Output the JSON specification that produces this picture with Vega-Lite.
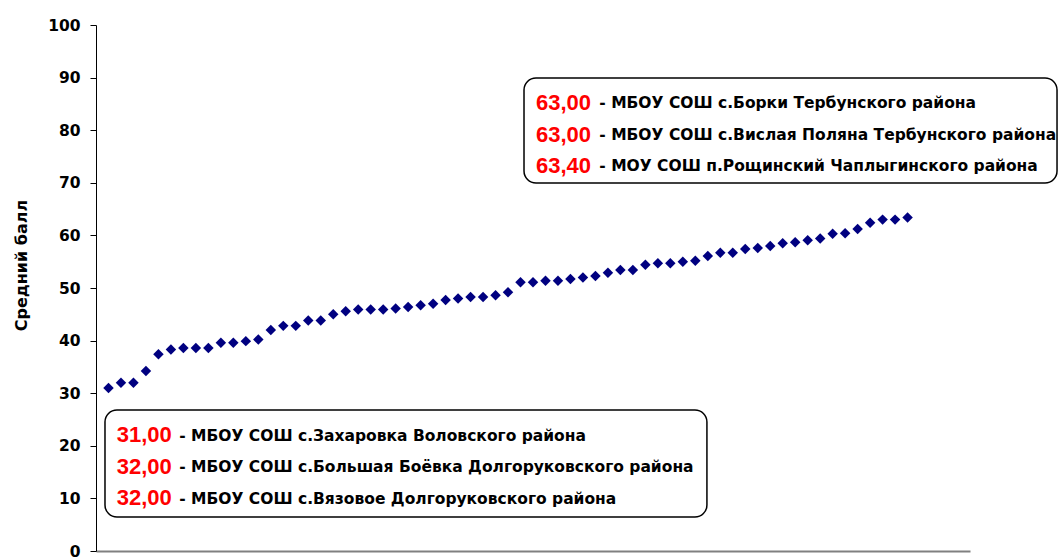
{
  "$schema": "https://vega.github.io/schema/vega-lite/v6.json",
  "width": 874,
  "height": 526,
  "autosize": "none",
  "padding": {"left": 96, "top": 25, "right": 89, "bottom": 6},
  "background": "white",
  "config": {
    "view": {"stroke": null},
    "font": "DejaVu Sans"
  },
  "datasets": {
    "points": [
      {"n": 1, "score": 31.0}, {"n": 2, "score": 32.0}, {"n": 3, "score": 32.0}, {"n": 4, "score": 34.2},
      {"n": 5, "score": 37.4}, {"n": 6, "score": 38.3}, {"n": 7, "score": 38.6}, {"n": 8, "score": 38.6},
      {"n": 9, "score": 38.6}, {"n": 10, "score": 39.6}, {"n": 11, "score": 39.6}, {"n": 12, "score": 39.9},
      {"n": 13, "score": 40.2}, {"n": 14, "score": 42.0}, {"n": 15, "score": 42.8}, {"n": 16, "score": 42.8},
      {"n": 17, "score": 43.8}, {"n": 18, "score": 43.8}, {"n": 19, "score": 45.0}, {"n": 20, "score": 45.6},
      {"n": 21, "score": 45.9}, {"n": 22, "score": 45.9}, {"n": 23, "score": 45.9}, {"n": 24, "score": 46.1},
      {"n": 25, "score": 46.4}, {"n": 26, "score": 46.7}, {"n": 27, "score": 47.0}, {"n": 28, "score": 47.7},
      {"n": 29, "score": 48.0}, {"n": 30, "score": 48.3}, {"n": 31, "score": 48.3}, {"n": 32, "score": 48.6},
      {"n": 33, "score": 49.2}, {"n": 34, "score": 51.1}, {"n": 35, "score": 51.1}, {"n": 36, "score": 51.4},
      {"n": 37, "score": 51.4}, {"n": 38, "score": 51.7}, {"n": 39, "score": 52.0}, {"n": 40, "score": 52.3},
      {"n": 41, "score": 52.9}, {"n": 42, "score": 53.4}, {"n": 43, "score": 53.4}, {"n": 44, "score": 54.4},
      {"n": 45, "score": 54.7}, {"n": 46, "score": 54.7}, {"n": 47, "score": 55.0}, {"n": 48, "score": 55.2},
      {"n": 49, "score": 56.1}, {"n": 50, "score": 56.7}, {"n": 51, "score": 56.7}, {"n": 52, "score": 57.4},
      {"n": 53, "score": 57.6}, {"n": 54, "score": 58.0}, {"n": 55, "score": 58.5}, {"n": 56, "score": 58.7},
      {"n": 57, "score": 59.1}, {"n": 58, "score": 59.4}, {"n": 59, "score": 60.3}, {"n": 60, "score": 60.4},
      {"n": 61, "score": 61.2}, {"n": 62, "score": 62.4}, {"n": 63, "score": 63.0}, {"n": 64, "score": 63.0},
      {"n": 65, "score": 63.4}
    ],
    "best": [
      {"values": ["63,00", "63,00", "63,40"],
       "schools": ["- МБОУ СОШ с.Борки Тербунского района", "- МБОУ СОШ с.Вислая Поляна Тербунского района", "- МОУ СОШ п.Рощинский Чаплыгинского района"]}
    ],
    "worst": [
      {"values": ["31,00", "32,00", "32,00"],
       "schools": ["- МБОУ СОШ с.Захаровка Воловского района", "- МБОУ СОШ с.Большая Боёвка Долгоруковского района", "- МБОУ СОШ с.Вязовое Долгоруковского района"]}
    ]
  },
  "layer": [
    {
      "data": {"name": "points"},
      "mark": {"type": "point", "shape": "diamond", "filled": true, "size": 110, "color": "#000080", "opacity": 1},
      "encoding": {
        "x": {"field": "n", "type": "quantitative", "scale": {"domain": [0, 70], "nice": false, "zero": true},
              "axis": {"title": null, "labels": false, "ticks": false, "grid": false, "domainColor": "#808080", "domainWidth": 2}},
        "y": {"field": "score", "type": "quantitative", "scale": {"domain": [0, 100], "nice": false},
              "axis": {"title": "Средний балл", "values": [0, 10, 20, 30, 40, 50, 60, 70, 80, 90, 100], "grid": false,
                       "domainColor": "black", "tickColor": "black", "tickSize": 6, "labelPadding": 10,
                       "labelFont": "DejaVu Sans", "labelFontSize": 15.5, "labelFontWeight": "bold", "labelColor": "black",
                       "titleFont": "DejaVu Sans", "titleFontSize": 16, "titleFontWeight": "bold", "titleColor": "black",
                       "titleX": -75, "titleY": 240, "titleAngle": 270, "titleAlign": "center", "titleBaseline": "middle"}}
      }
    },
    {
      "data": {"name": "best"},
      "mark": {"type": "rect", "fill": "white", "stroke": "black", "strokeWidth": 1.5, "cornerRadius": 12},
      "encoding": {
        "x": {"datum": 34.28}, "x2": {"datum": 76.97},
        "y": {"datum": 89.92}, "y2": {"datum": 69.96}
      }
    },
    {
      "data": {"name": "worst"},
      "mark": {"type": "rect", "fill": "white", "stroke": "black", "strokeWidth": 1.5, "cornerRadius": 12},
      "encoding": {
        "x": {"datum": 0.72}, "x2": {"datum": 48.93},
        "y": {"datum": 26.81}, "y2": {"datum": 6.46}
      }
    },
    {
      "data": {"name": "best"},
      "mark": {"type": "text", "align": "left", "baseline": "alphabetic", "color": "#ff0000", "font": "Liberation Sans", "fontWeight": "bold", "fontSize": 22, "lineHeight": 31.5},
      "encoding": {
        "x": {"datum": 35.24}, "y": {"datum": 83.84},
        "text": {"field": "values", "type": "nominal"}
      }
    },
    {
      "data": {"name": "best"},
      "mark": {"type": "text", "align": "left", "baseline": "alphabetic", "color": "black", "font": "DejaVu Sans", "fontWeight": "bold", "fontSize": 15.5, "lineHeight": 31.5},
      "encoding": {
        "x": {"datum": 40.31}, "y": {"datum": 84.13},
        "text": {"field": "schools", "type": "nominal"}
      }
    },
    {
      "data": {"name": "worst"},
      "mark": {"type": "text", "align": "left", "baseline": "alphabetic", "color": "#ff0000", "font": "Liberation Sans", "fontWeight": "bold", "fontSize": 22, "lineHeight": 31.5},
      "encoding": {
        "x": {"datum": 1.66}, "y": {"datum": 20.67},
        "text": {"field": "values", "type": "nominal"}
      }
    },
    {
      "data": {"name": "worst"},
      "mark": {"type": "text", "align": "left", "baseline": "alphabetic", "color": "black", "font": "DejaVu Sans", "fontWeight": "bold", "fontSize": 15.5, "lineHeight": 31.5},
      "encoding": {
        "x": {"datum": 6.67}, "y": {"datum": 20.95},
        "text": {"field": "schools", "type": "nominal"}
      }
    }
  ]
}
